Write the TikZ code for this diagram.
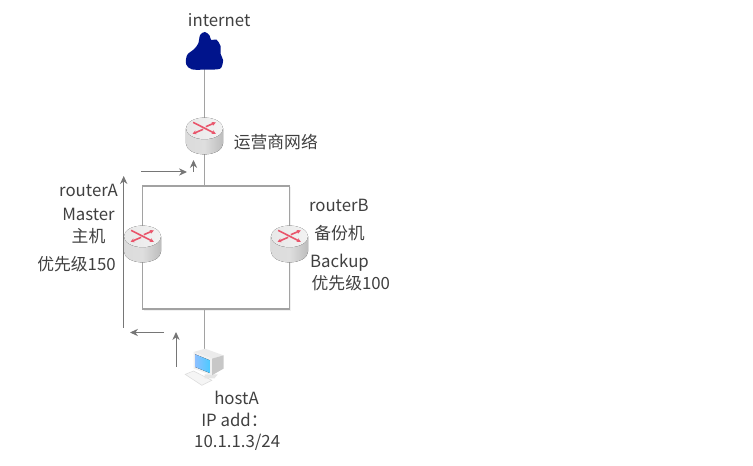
\documentclass[tikz,border=0pt]{standalone}
\usepackage{fontspec}
\setmainfont{Noto Sans CJK SC}
\usepackage{xcolor}
\usetikzlibrary{positioning, arrows.meta}

\definecolor{linkgray}{HTML}{A2A2A2}
\definecolor{arrowgray}{HTML}{767676}
\definecolor{textgray}{HTML}{404040}
\definecolor{cloudblue}{HTML}{00148C}
\definecolor{crossred}{HTML}{E9556B}

\tikzset{
    iconbox/.style={inner sep=0pt, minimum width=28pt, minimum height=28pt},
    lbl/.style={inner sep=0pt, text=textgray, font=\fontsize{12.6}{14}\selectfont},
    link/.style={draw=linkgray, line width=0.8pt},
    ringshadow/.style={draw=black!6, line width=0.8pt},
    flow/.style={draw=arrowgray, line width=0.75pt, -{Stealth[length=6pt, width=5.5pt]}},
    crossline/.style={crossred, line width=1.2pt, -{Stealth[length=3pt, width=3pt]}},
    routericon/.pic={
        \fill[left color=black!14, right color=black!26, middle color=black!13]
            (-13.9pt,5.7pt) -- (-13.9pt,-5.7pt) arc[start angle=180, end angle=360, x radius=13.9pt, y radius=8.1pt]
            -- (13.9pt,5.7pt) -- cycle;
        \fill[left color=black!9, right color=black!5] (0,5.7pt) ellipse[x radius=13.9pt, y radius=8.1pt];
        \draw[crossline] (-8.5pt,10.2pt) -- (8.5pt,1.6pt);
        \draw[crossline] (-1pt,5pt) -- (-9pt,1.6pt);
        \draw[crossline] (1pt,7pt) -- (8.5pt,10.2pt);
    },
    cloudicon/.pic={
        \begin{scope}[x=0.25pt, y=-0.25pt]
            \fill[cloudblue] plot[smooth cycle, tension=0.55] coordinates {
                (-38,55) (-55,40) (-52,12) (-32,-5) (-19,-22) (-13,-48) (1,-57) (15,-47) (20,-33)
                (36,-34) (48,-15) (48,8) (56,28) (50,50) (38,55) (0,56)};
        \end{scope}
    },
    hosticon/.pic={
        \begin{scope}[x=0.25pt, y=-0.25pt]
            \fill[black!4, draw=black!14, line width=0.4pt] (-58,22) -- (-33,12) -- (22,40) -- (-8,55) -- cycle; % keyboard
            \fill[black!10] (0,22) -- (40,22) -- (30,34) -- (0,34) -- cycle; % stand
            \fill[black!8] (-33,-45) -- (2,-55) -- (57,-35) -- (22,-25) -- cycle; % top
            \fill[black!22] (22,-25) -- (57,-35) -- (57,5) -- (22,25) -- cycle; % side
            \fill[black!6] (-33,-45) -- (22,-25) -- (22,25) -- (-33,5) -- cycle; % front
            \fill[left color=cyan!45!blue!45, right color=cyan!70!blue!70] (-28,-38) -- (16,-20) -- (16,18) -- (-28,0) -- cycle; % screen
        \end{scope}
    }
}

\begin{document}
\begin{tikzpicture}[x=0.75pt, y=-0.75pt, on grid]
        \useasboundingbox (0,0) rectangle (753,466);
        \node [iconbox] (cloud) at (204.5,51) {}; % cloud icon
        \node [iconbox, below=63.75pt of cloud] (routerC) {}; % router of the carrier
        \node [iconbox, below left=81pt and 46.5pt of routerC] (routerA) {}; % master router
        \node [iconbox, right=110.25pt of routerA] (routerB) {}; % backup router
        \node [iconbox, below=173.25pt of routerC] (hostA) {}; % host icon
        \coordinate [below=37.5pt of routerC] (ringT); % top of the ring
        \coordinate [below=129.75pt of routerC] (ringB); % bottom of the ring

        \node [lbl, above right=23.25pt and 11pt of cloud] (internet) {internet};
        \node [lbl, right=53.5pt of routerC, yshift=-4.5pt] (carrier) {运营商网络};
        \node [lbl, above left=40.5pt and 40.5pt of routerA] (nameA) {routerA};
        \node [lbl, below=18pt of nameA] (master) {Master};
        \node [lbl, below=16.5pt of master] (mainA) {主机};
        \node [lbl, below=21pt of mainA, xshift=-9pt] (prioA) {优先级150};
        \node [lbl, above right=29.25pt and 37pt of routerB] (nameB) {routerB};
        \node [lbl, below=21pt of nameB, xshift=0.5pt] (backupB) {备份机};
        \node [lbl, below=22pt of backupB] (backup) {Backup};
        \node [lbl, below=15.25pt of backup, xshift=8.5pt] (prioB) {优先级100};
        \node [lbl, below=23pt of hostA, xshift=24pt] (nameH) {hostA};
        \node [lbl, below=17pt of nameH, xshift=-1.5pt] (ipH) {IP add：};
        \node [lbl, below=16.5pt of ipH, xshift=2pt] (addrH) {10.1.1.3/24};

        % faint edge along the ring
        \draw [ringshadow] ([shift={(1pt,-1pt)}]routerB.center |- ringT) -- ([shift={(1pt,-1pt)}]routerB.center |- ringB) -- ([shift={(1pt,-1pt)}]routerA.center |- ringB);
        \draw [link] (cloud.center) -- (routerC.center);
        \draw [link] (routerC.center) -- (ringT);
        \draw [link] (routerA.center) |- (ringT) -| (routerB.center) |- (ringB) -| (routerA.center);
        \draw [link] (ringB) -- (hostA.center);

        \pic at (cloud) {cloudicon};
        \pic at (routerC) {routericon};
        \pic at (routerA) {routericon};
        \pic at (routerB) {routericon};
        \pic at (hostA) {hosticon};

        \coordinate (inS) at (141,172); % arrow into the carrier router
        \coordinate (inE) at (187,172);
        \coordinate (upS) at (193.5,172); % short arrow under the carrier router
        \coordinate (upE) at (193.5,160);
        \coordinate (longS) at (123.7,328); % long arrow beside routerA
        \coordinate (longE) at (123.7,176);
        \coordinate (backS) at (164,332.5); % arrow towards the long one
        \coordinate (backE) at (130,332.5);
        \coordinate (hostS) at (176,367); % arrow beside the host
        \coordinate (hostE) at (176,332);
        \draw [flow] (inS) -- (inE);
        \draw [flow] (upS) -- (upE);
        \draw [flow] (longS) -- (longE);
        \draw [flow] (backS) -- (backE);
        \draw [flow] (hostS) -- (hostE);
    \end{tikzpicture}
\end{document}
